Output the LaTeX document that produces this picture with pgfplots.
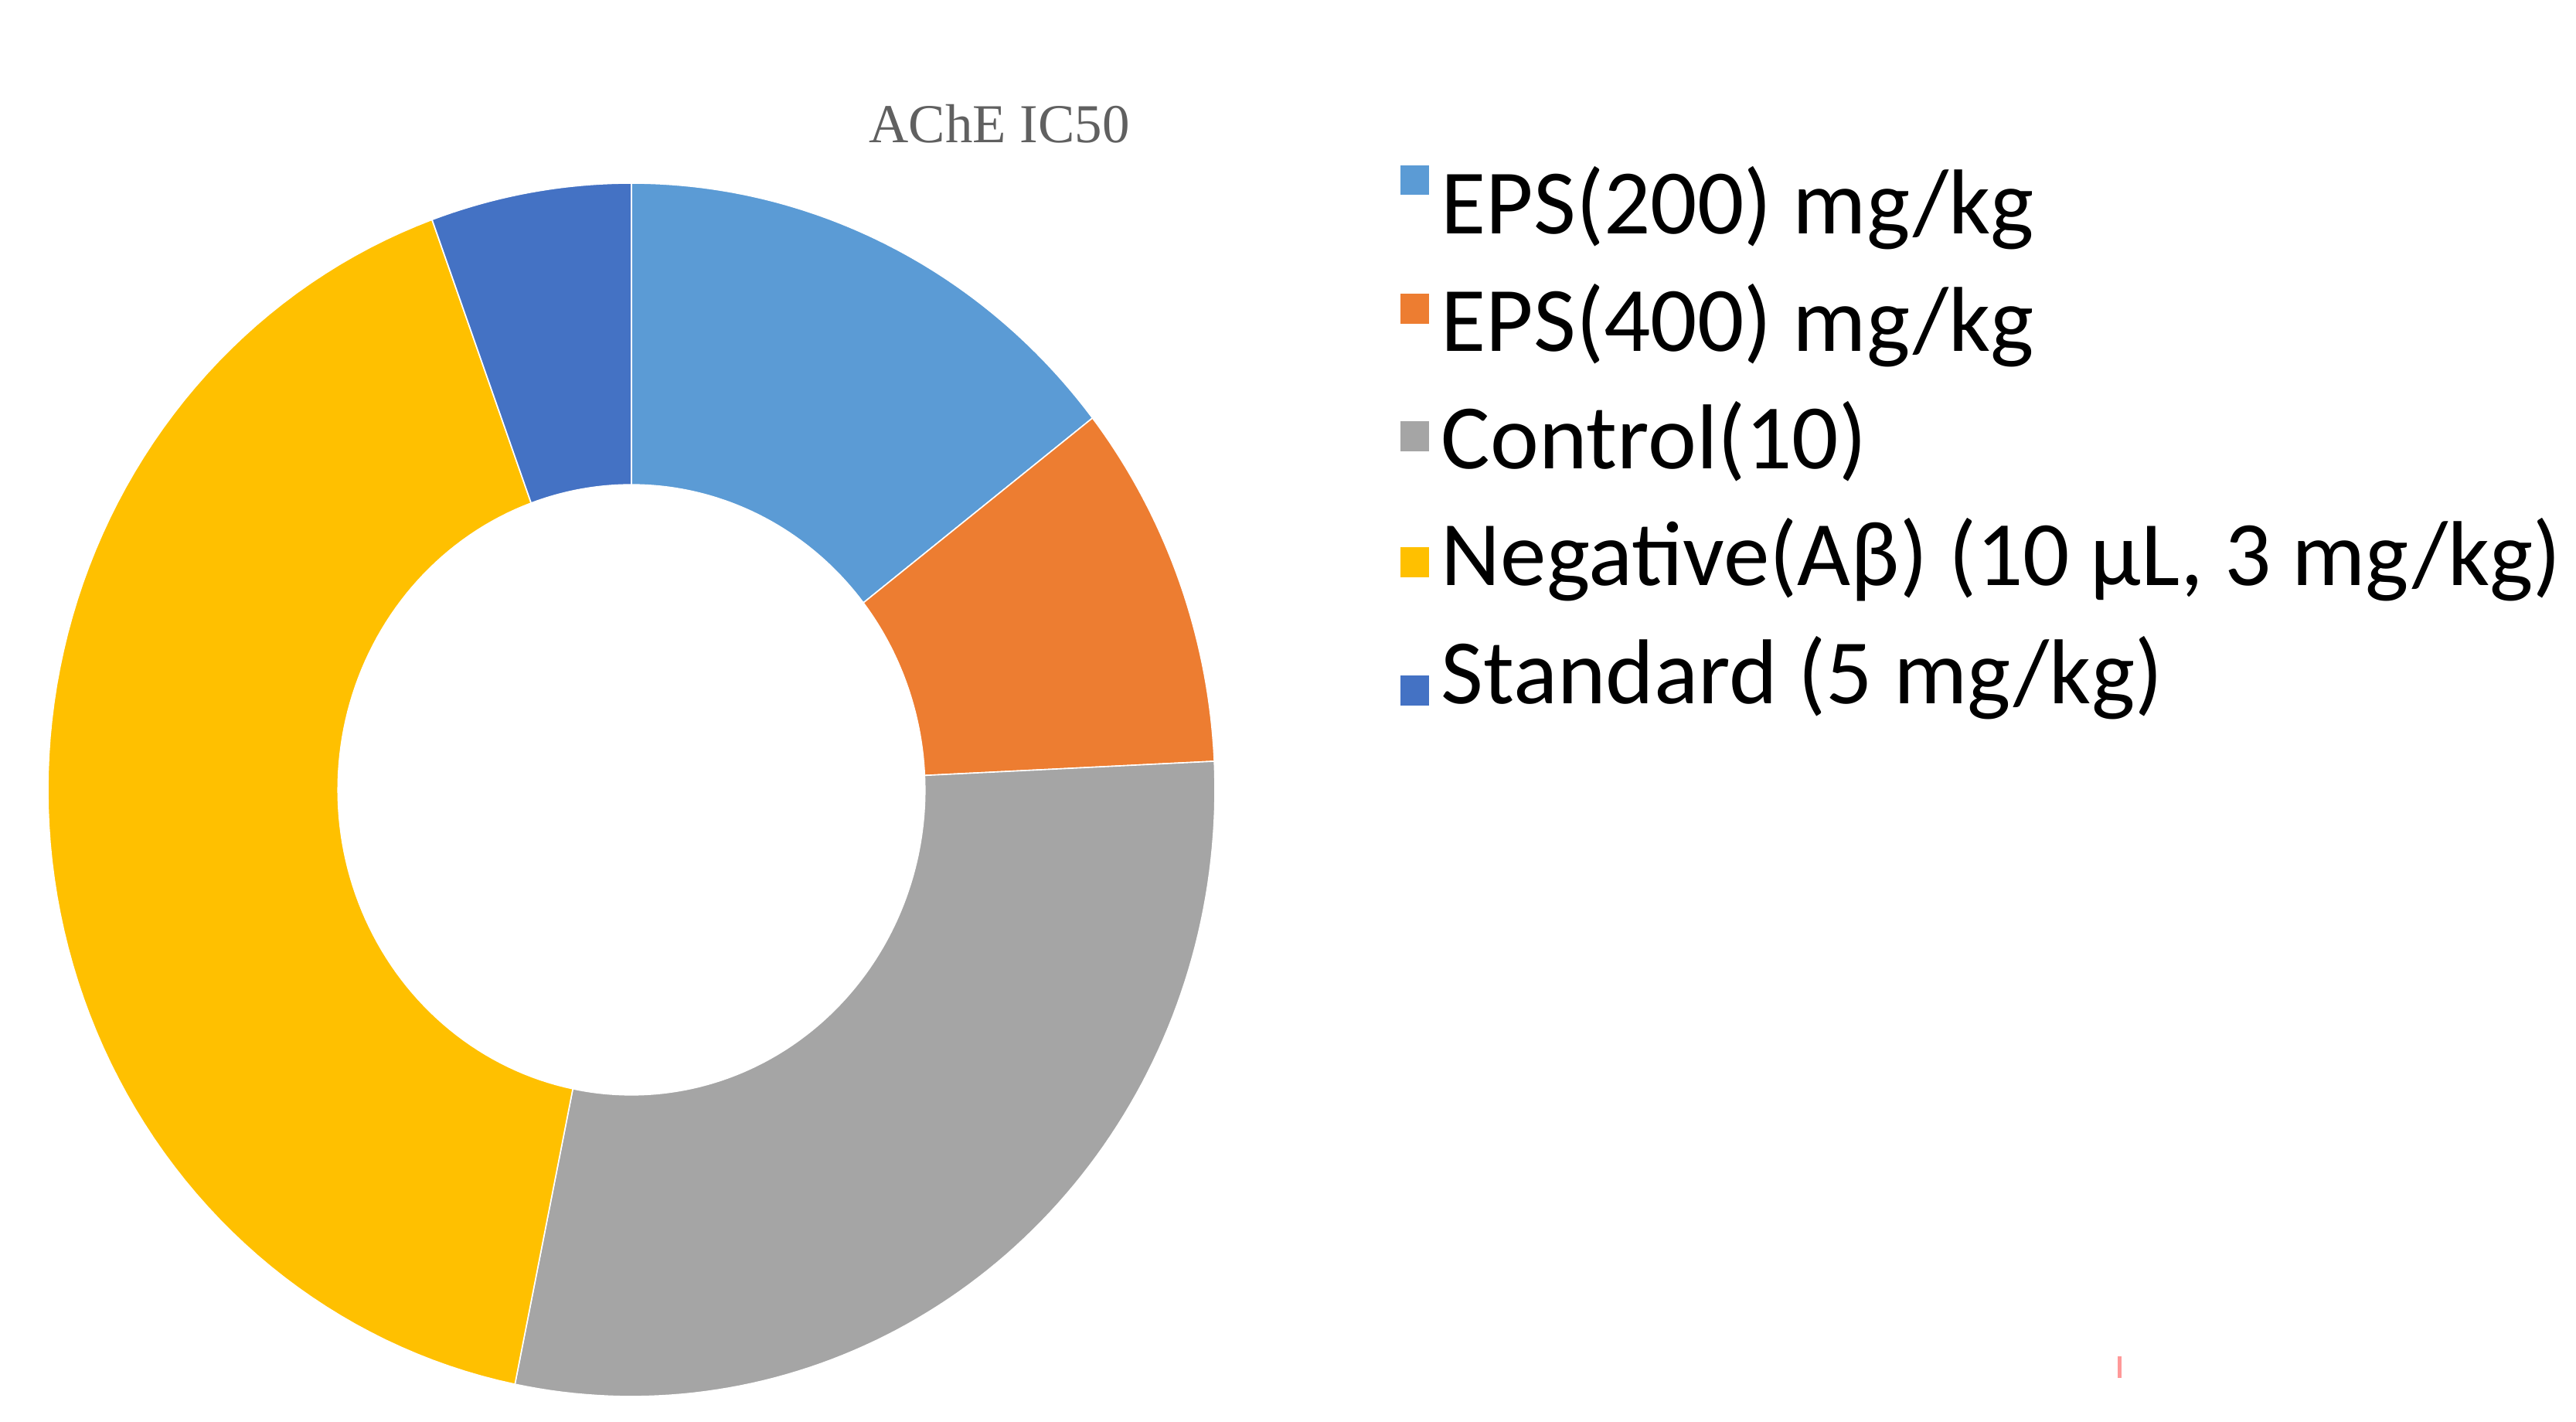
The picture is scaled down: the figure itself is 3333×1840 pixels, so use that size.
\documentclass[border=0pt]{standalone}
\usepackage{pgfplots}
\pgfplotsset{compat=1.18}
\usepackage{pgfplotstable}
\usepgfplotslibrary{fillbetween}
\usepackage{fontspec}
\setmainfont{Carlito}
\newfontfamily\titlefont{Liberation Serif}
\definecolor{seg0}{HTML}{5B9BD5}
\definecolor{seg1}{HTML}{ED7D31}
\definecolor{seg2}{HTML}{A5A5A5}
\definecolor{seg3}{HTML}{FFC000}
\definecolor{seg4}{HTML}{4472C4}
\definecolor{titlegray}{HTML}{606060}

% AChE IC50 shares (percent of the ring)
\pgfplotstableread{
group value
EPS200 14.5
EPS400 9.75
Control 28.95
Negative 41.25
Standard 5.55
}\achedata

% one ring segment: #1 index, #2 start angle, #3 end angle (clockwise from top)
\newcommand\ringseg[3]{%
  \addplot[name path=outer#1, draw=none, samples=90, domain=#2:#3]
    ({sin(x)},{cos(x)});
  \addplot[name path=inner#1, draw=none, samples=90, domain=#2:#3]
    ({0.503*sin(x)},{0.503*cos(x)});
  \addplot[fill=seg#1, draw=white, line width=0.4pt]
    fill between[of=outer#1 and inner#1];
}

\def\cum{0}
\def\ringplots{}
\pgfplotsforeachungrouped \i in {0,...,4}{%
  \pgfplotstablegetelem{\i}{value}\of\achedata
  \pgfmathsetmacro\nextcum{\cum+3.6*\pgfplotsretval}%
  \xdef\ringplots{\unexpanded\expandafter{\ringplots}\noexpand\ringseg{\i}{\cum}{\nextcum}}%
  \xdef\cum{\nextcum}%
}

\begin{document}
\begin{tikzpicture}
\begin{axis}[
  at={(204.25pt,204.5pt)}, anchor=center,
  width=377.5pt, height=392.5pt, scale only axis,
  hide axis, clip=false,
  xmin=-1, xmax=1, ymin=-1, ymax=1,
]
\ringplots
\end{axis}

\begin{scope}[x=0.25pt,y=0.25pt]
% title
\node[anchor=base, inner sep=0pt, text=titlegray,
  font=\titlefont\fontsize{17.75pt}{20pt}\selectfont] at (1293,1655) {AChE IC50};

% legend
\fill[seg0] (1812,{1840-214}) rectangle (1849,{1840-252});
\fill[seg1] (1812,{1840-380}) rectangle (1849,{1840-419});
\fill[seg2] (1812,{1840-545}) rectangle (1849,{1840-584});
\fill[seg3] (1812,{1840-708}) rectangle (1849,{1840-747});
\fill[seg4] (1812,{1840-874}) rectangle (1849,{1840-913});
\begin{scope}[every node/.style={anchor=base west, inner sep=0pt,
  font=\fontsize{29.8pt}{36pt}\selectfont}]
\node at (1864,{1840-303}) {EPS(200) mg/kg};
\node at (1864,{1840-455}) {EPS(400) mg/kg};
\node at (1864,{1840-607}) {Control(10)};
\node at (1864,{1840-758}) {Negative(Aβ) (10 µL, 3 mg/kg)};
\node at (1864,{1840-911}) {Standard (5 mg/kg)};
\end{scope}

% small red tick at the bottom
\draw[color=red!40, line width=1.25pt] (2742,{1840-1755}) -- (2742,{1840-1783});
% page frame
\path (0,0) rectangle (3333,1840);
\end{scope}
\end{tikzpicture}
\end{document}
